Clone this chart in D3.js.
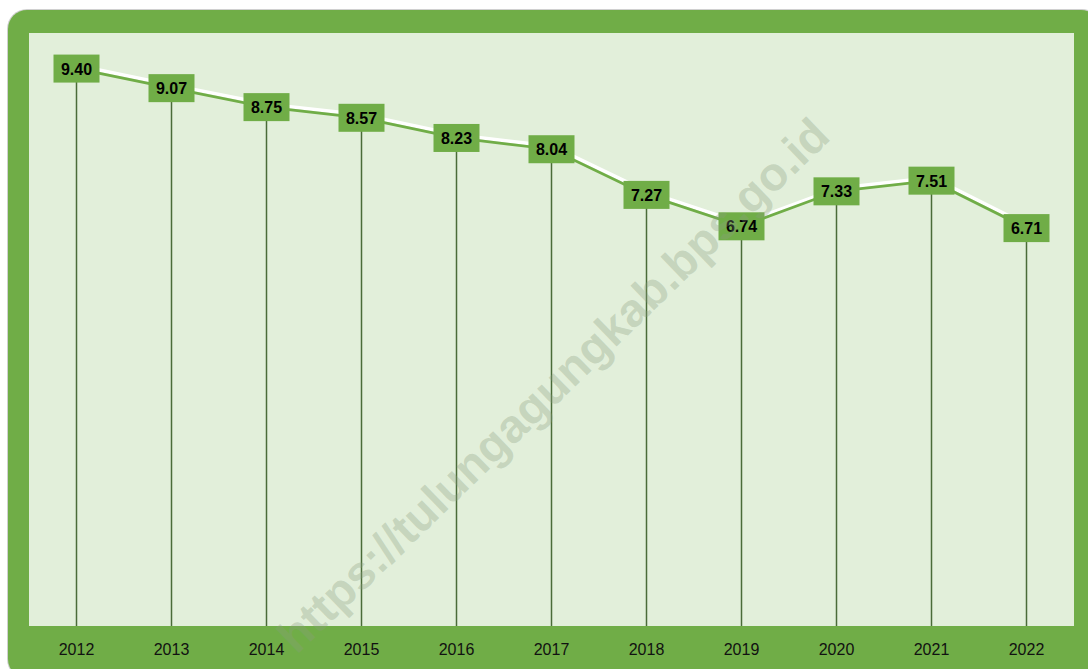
<!DOCTYPE html>
<html><head><meta charset="utf-8">
<script src="https://cdn.jsdelivr.net/npm/d3@7"></script>
<style>html,body{margin:0;padding:0;background:#fff;overflow:hidden}</style>
</head><body><svg id="c" width="1088" height="669"></svg>
<script>
const years = ["2012","2013","2014","2015","2016","2017","2018","2019","2020","2021","2022"];
const values = [9.40, 9.07, 8.75, 8.57, 8.23, 8.04, 7.27, 6.74, 7.33, 7.51, 6.71];
const valueLabels = ["9.40","9.07","8.75","8.57","8.23","8.04","7.27","6.74","7.33","7.51","6.71"];
const watermark = "https://tulungagungkab.bps.go.id";

const svg = d3.select("#c");
const plot = {left: 29, right: 1074, top: 33, bottom: 626};

// outer frame
svg.append("rect").attr("x", 7).attr("y", 9).attr("width", 1095).attr("height", 670)
  .attr("rx", 20).attr("fill", "#d0d0d0");
svg.append("rect").attr("x", 8).attr("y", 10).attr("width", 1092).attr("height", 668)
  .attr("rx", 19).attr("fill", "#70AD47");
svg.append("rect").attr("x", plot.left).attr("y", plot.top)
  .attr("width", plot.right - plot.left).attr("height", plot.bottom - plot.top)
  .attr("fill", "#E2EFDA");

const x = d3.scaleBand().domain(years).range([plot.left, plot.right]);
const y = d3.scaleLinear().domain([0, 10]).range([plot.bottom, plot.top]);
const cx = d => x(d) + x.bandwidth() / 2;

// drop lines
svg.append("g").selectAll("line").data(years).join("line")
  .attr("x1", d => cx(d)).attr("x2", d => cx(d))
  .attr("y1", (d, i) => y(values[i])).attr("y2", plot.bottom)
  .attr("stroke", "#4a6b38").attr("stroke-width", 1.5);

// line with white shadow
const line = d3.line().x((d, i) => cx(years[i])).y(d => y(d));
svg.append("path").datum(values).attr("d", line)
  .attr("transform", "translate(1,-3)")
  .attr("fill", "none").attr("stroke", "#ffffff").attr("stroke-width", 3.5);
svg.append("path").datum(values).attr("d", line)
  .attr("fill", "none").attr("stroke", "#70AD47").attr("stroke-width", 2.75);

// x-axis labels
svg.append("g").selectAll("text").data(years).join("text")
  .attr("x", d => cx(d)).attr("y", 655).attr("text-anchor", "middle")
  .attr("font-family", "Liberation Sans, Arial, sans-serif").attr("font-size", 16)
  .attr("fill", "#111").text(d => d);

// data labels
const lg = svg.append("g").selectAll("g").data(values).join("g")
  .attr("transform", (d, i) => `translate(${cx(years[i])},${y(d)})`);
lg.append("rect").attr("x", -23).attr("y", -14).attr("width", 46).attr("height", 28)
  .attr("fill", "#70AD47");
lg.append("text").attr("text-anchor", "middle").attr("y", 6)
  .attr("font-family", "Liberation Sans, Arial, sans-serif").attr("font-weight", "bold")
  .attr("font-size", 16).attr("fill", "#000").text((d, i) => valueLabels[i]);

// watermark
svg.append("text").attr("transform", "translate(553,385) rotate(-44)")
  .attr("text-anchor", "middle").attr("dominant-baseline", "central")
  .attr("font-family", "Liberation Sans, Arial, sans-serif").attr("font-weight", "bold")
  .attr("font-size", 47).attr("fill", "#8a9e80").attr("fill-opacity", 0.32)
  .text(watermark);
</script></body></html>
